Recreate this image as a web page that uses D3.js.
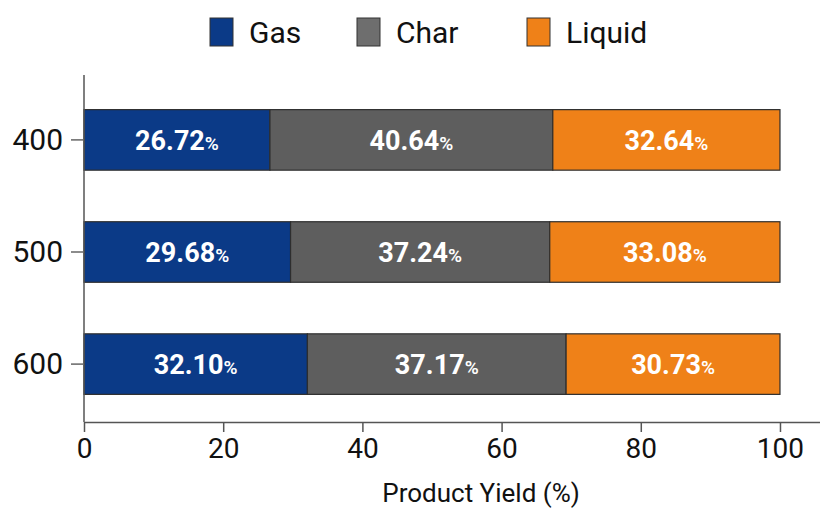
<!DOCTYPE html>
<html>
<head>
<meta charset="utf-8">
<script src="https://cdn.jsdelivr.net/npm/d3@7"></script>
<style>
  html, body { margin: 0; padding: 0; background: #fff; }
  svg { display: block; }
  text { font-family: "Roboto", "Liberation Sans", sans-serif; }
</style>
</head>
<body>
<svg id="chart" width="820" height="511"></svg>
<script>
// Product yield by pyrolysis temperature (stacked, percent)
const temperatures = ["400", "500", "600"];
const seriesNames = ["Gas", "Char", "Liquid"];
const gasValues = [26.72, 29.68, 32.10];
const charValues = [40.64, 37.24, 37.17];
const liquidValues = [32.64, 33.08, 30.73];
const xTickValues = [0, 20, 40, 60, 80, 100];
const seriesColors = ["#0b3a87", "#5e5e5e", "#ef8118"];
const legendColors = ["#0b3a87", "#6e6e6e", "#ef8118"];

const rows = temperatures.map((t, i) => ({
  temp: t, Gas: gasValues[i], Char: charValues[i], Liquid: liquidValues[i]
}));

const svg = d3.select("#chart");

const x = d3.scaleLinear().domain([0, 105.75]).range([84, 820]);
const y = d3.scaleBand().domain(temperatures).range([76, 428])
  .paddingInner(0.46).paddingOuter(0.3);

const stacked = d3.stack().keys(seriesNames)(rows);
const color = d3.scaleOrdinal().domain(seriesNames).range(seriesColors);

// stacked segments
const layers = svg.append("g").selectAll("g")
  .data(stacked).join("g")
  .attr("fill", d => color(d.key));

layers.selectAll("rect")
  .data(d => d.map(p => ({ key: d.key, p })))
  .join("rect")
  .attr("x", d => x(d.p[0]))
  .attr("y", d => y(d.p.data.temp))
  .attr("width", d => x(d.p[1]) - x(d.p[0]))
  .attr("height", y.bandwidth())
  .attr("stroke", "#2e2e2e")
  .attr("stroke-width", 1.2);

// value labels inside each segment
const labels = layers.selectAll("text")
  .data(d => d.map(p => ({ key: d.key, p })))
  .join("text")
  .attr("x", d => (x(d.p[0]) + x(d.p[1])) / 2)
  .attr("y", d => y(d.p.data.temp) + y.bandwidth() / 2 + 10)
  .attr("text-anchor", "middle")
  .attr("fill", "#ffffff")
  .attr("font-family", "'Open Sans', 'Noto Sans', sans-serif")
  .attr("font-weight", 700);

labels.append("tspan")
  .attr("font-size", 27)
  .text(d => (d.p[1] - d.p[0]).toFixed(2));
labels.append("tspan")
  .attr("font-size", 19)
  .attr("font-weight", 600)
  .text("%");

// x axis
const xAxisY = 422;
const xAxis = svg.append("g")
  .attr("transform", `translate(0,${xAxisY})`)
  .call(d3.axisBottom(x).tickValues(xTickValues).tickSize(10).tickPadding(6).tickSizeOuter(0));
xAxis.select(".domain").attr("stroke", "#555").attr("stroke-width", 1.5);
xAxis.selectAll(".tick line").attr("stroke", "#555").attr("stroke-width", 1.5);
xAxis.selectAll(".tick text")
  .attr("font-size", 28)
  .attr("fill", "#111")
  .attr("font-family", "'Roboto', sans-serif")
  .attr("dy", "0.71em");

// y axis
const yAxis = svg.append("g")
  .attr("transform", `translate(${x(0)},0)`)
  .call(d3.axisLeft(y).tickSize(13).tickPadding(8).tickSizeOuter(0));
yAxis.select(".domain").attr("d", `M0,75V${xAxisY}`).attr("stroke", "#555").attr("stroke-width", 1.5);
yAxis.selectAll(".tick line").attr("stroke", "#666").attr("stroke-width", 1.5);
yAxis.selectAll(".tick text")
  .attr("font-size", 30)
  .attr("fill", "#111")
  .attr("font-family", "'Roboto', sans-serif");

// axis title
svg.append("text")
  .attr("x", 481)
  .attr("y", 502)
  .attr("text-anchor", "middle")
  .attr("font-size", 26)
  .attr("fill", "#111")
  .text("Product Yield (%)");

// legend
const legendX = [210, 357, 527];
const legend = svg.append("g").selectAll("g")
  .data(seriesNames).join("g")
  .attr("transform", (d, i) => `translate(${legendX[i]},18)`);
legend.append("rect")
  .attr("width", 23).attr("height", 28)
  .attr("fill", (d, i) => legendColors[i])
  .attr("stroke", "#333").attr("stroke-width", 1);
legend.append("text")
  .attr("x", 39).attr("y", 25)
  .attr("font-size", 30)
  .attr("fill", "#111")
  .text(d => d);
</script>
</body>
</html>
